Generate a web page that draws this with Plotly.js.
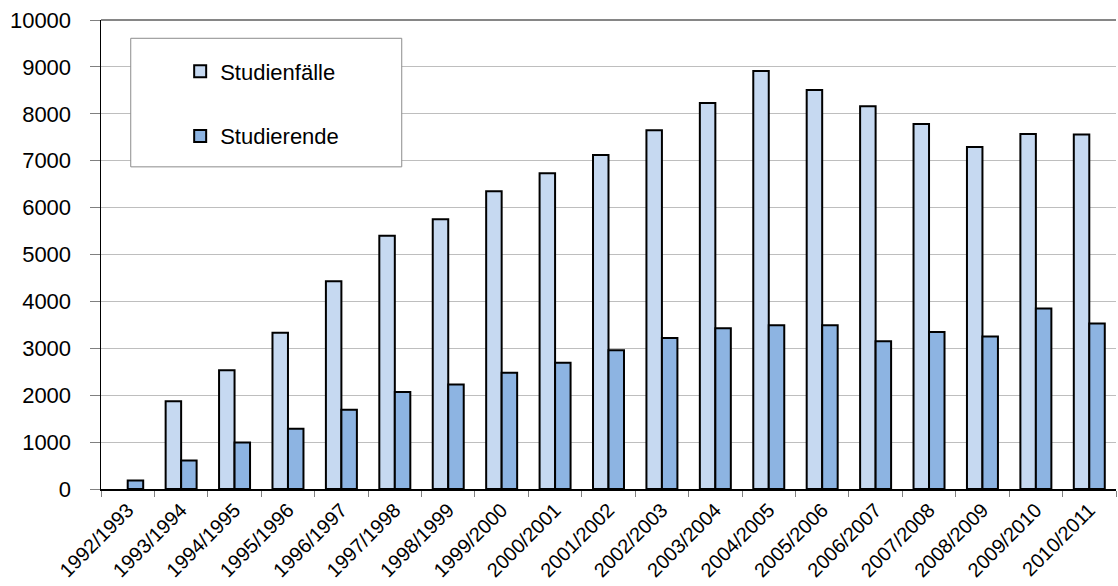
<!DOCTYPE html>
<html>
<head>
<meta charset="utf-8">
<script src="https://cdn.plot.ly/plotly-3.0.1.min.js"></script>
<style>
  html, body { margin: 0; padding: 0; background: #ffffff; }
  #chart { width: 1118px; height: 586px; }
</style>
</head>
<body>
<div id="chart"></div>
<script>
// Semesters
const semester = [
  "1992/1993", "1993/1994", "1994/1995", "1995/1996", "1996/1997",
  "1997/1998", "1998/1999", "1999/2000", "2000/2001", "2001/2002",
  "2002/2003", "2003/2004", "2004/2005", "2005/2006", "2006/2007",
  "2007/2008", "2008/2009", "2009/2010", "2010/2011"
];

// Studienfälle per semester (no value for 1992/1993)
const studienfaelle = [
  null, 1870, 2530, 3330, 4430,
  5400, 5750, 6350, 6730, 7120,
  7650, 8230, 8910, 8510, 8160,
  7780, 7290, 7570, 7560
];

// Studierende per semester
const studierende = [
  180, 610, 990, 1285, 1690,
  2070, 2230, 2480, 2690, 2960,
  3220, 3430, 3490, 3490, 3150,
  3350, 3250, 3850, 3530
];

const yTicks = [0, 1000, 2000, 3000, 4000, 5000, 6000, 7000, 8000, 9000, 10000];

const FONT = "Liberation Sans, Arial, sans-serif";

const traces = [
  {
    type: "bar",
    name: "Studienfälle",
    legendgroup: "a",
    x: semester,
    y: studienfaelle,
    marker: { color: "#C6D9F1", line: { color: "#000000", width: 2 } }
  },
  {
    type: "bar",
    name: "Studierende",
    legendgroup: "b",
    x: semester,
    y: studierende,
    marker: { color: "#8DB4E2", line: { color: "#000000", width: 2 } }
  }
];

const layout = {
  width: 1118,
  height: 586,
  margin: { l: 101, r: 2, t: 20, b: 97, pad: 0 },
  paper_bgcolor: "#ffffff",
  plot_bgcolor: "#ffffff",
  barmode: "group",
  bargap: 0.42,
  bargroupgap: 0,
  font: { family: FONT, color: "#000000" },
  showlegend: true,
  legend: {
    x: 0.078, xanchor: "left",
    y: 0.935, yanchor: "top",
    bgcolor: "rgba(0,0,0,0)",
    borderwidth: 0,
    font: { family: FONT, size: 22, color: "#000000" },
    traceorder: "grouped",
    tracegroupgap: 33
  },
  xaxis: {
    type: "category",
    tickangle: -45,
    tickfont: { family: FONT, size: 20, color: "#000000" },
    ticks: "outside",
    tickson: "boundaries",
    ticklen: 6,
    tickwidth: 1,
    tickcolor: "#808080",
    showline: true,
    linecolor: "#000000",
    linewidth: 1.5,
    showgrid: false,
    zeroline: false,
    fixedrange: true
  },
  yaxis: {
    range: [0, 10000],
    tickvals: yTicks,
    ticktext: yTicks.map(String),
    tickfont: { family: FONT, size: 22, color: "#000000" },
    ticks: "outside",
    ticklen: 10,
    tickwidth: 1,
    tickcolor: "#808080",
    ticklabelstandoff: 14,
    showline: true,
    linecolor: "#000000",
    linewidth: 1.5,
    showgrid: true,
    gridcolor: "#BEBEBE",
    gridwidth: 1,
    zeroline: false,
    fixedrange: true
  },
  shapes: [
    // top frame of the plot area
    {
      type: "line", xref: "paper", yref: "paper",
      x0: 0, x1: 1, y0: 1, y1: 1,
      line: { color: "#868686", width: 2 }, layer: "above"
    },
    // legend frame
    {
      type: "rect", xref: "paper", yref: "paper",
      x0: 0.0293, x1: 0.2963, y0: 0.6869, y1: 0.961,
      fillcolor: "#ffffff",
      line: { color: "#8C8C8C", width: 1 }, layer: "above"
    }
  ]
};

Plotly.newPlot("chart", traces, layout, { staticPlot: true, displayModeBar: false });
</script>
</body>
</html>
